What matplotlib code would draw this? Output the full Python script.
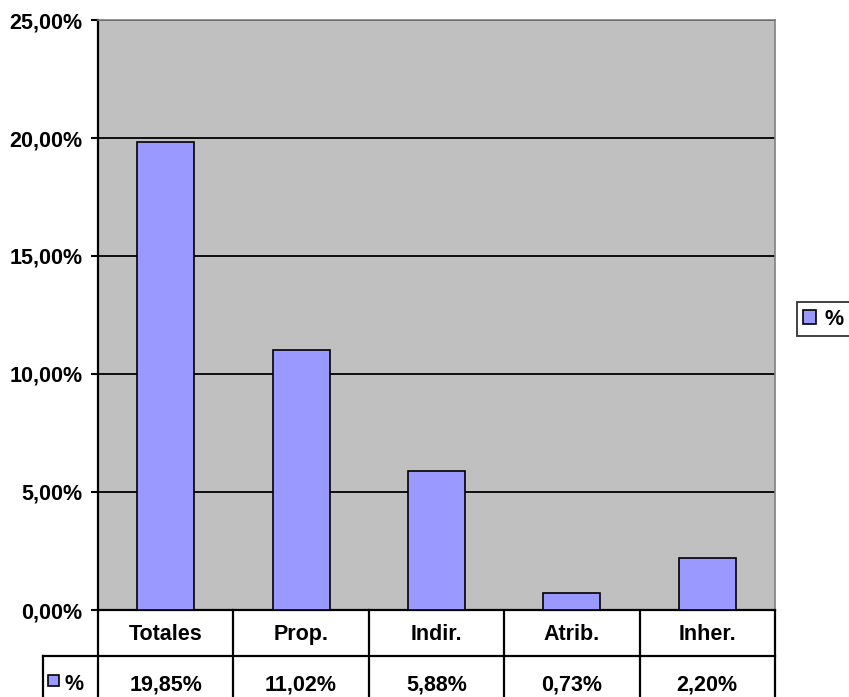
import matplotlib.pyplot as plt
from matplotlib.patches import Rectangle
from matplotlib.ticker import FuncFormatter

categories = ['Totales', 'Prop.', 'Indir.', 'Atrib.', 'Inher.']
values = [19.85, 11.02, 5.88, 0.73, 2.20]
series_name = '%'
cell_labels = ['19,85%', '11,02%', '5,88%', '0,73%', '2,20%']

plt.rcParams['font.family'] = ['Liberation Sans', 'DejaVu Sans']
plt.rcParams['font.weight'] = 'bold'
FS = 15.5
bar_color = '#9999FF'

fig = plt.figure(figsize=(8.49, 6.97), dpi=100)
ax = fig.add_axes([98 / 849, 1 - 610 / 697, 677 / 849, 590 / 697])
ax.set_facecolor('#C0C0C0')

x = list(range(len(categories)))
bars = ax.bar(x, values, width=0.42, color=bar_color, edgecolor='black',
              linewidth=1.2, zorder=3, label=series_name)
ax.set_xlim(-0.5, len(categories) - 0.5)
ax.set_ylim(0, 25)
ax.set_yticks([0, 5, 10, 15, 20, 25])
ax.yaxis.set_major_formatter(FuncFormatter(lambda v, p: f'{v:.2f}%'.replace('.', ',')))
ax.tick_params(axis='y', direction='out', length=5, width=1.5, labelsize=FS, pad=6)
ax.set_xticks([])
ax.grid(axis='y', color='black', linewidth=1.3, zorder=1)
ax.set_axisbelow(True)
for lab in ax.get_yticklabels():
    lab.set_fontweight('bold')

ax.spines['left'].set_linewidth(1.6)
ax.spines['bottom'].set_linewidth(1.6)
for s in ('top', 'right'):
    ax.spines[s].set_color('#808080')
    ax.spines[s].set_linewidth(1.2)

# data table below the axes
row_h = 46 / 590
key_w = 55 / 677
n = len(categories)
y_head = -30 / 590   # baseline of header row
y_vals = -80 / 590   # baseline of value row
lk = dict(color='black', linewidth=1.6, clip_on=False, transform=ax.transAxes)
for i in range(n + 1):
    xf = i / n
    ax.plot([xf, xf], [0, -3 * row_h], **lk)
ax.plot([-key_w, -key_w], [-row_h, -3 * row_h], **lk)
ax.plot([-key_w, 1], [-row_h, -row_h], **lk)
for i, (c, v) in enumerate(zip(categories, cell_labels)):
    xc = (i + 0.5) / n
    ax.text(xc, y_head, c, transform=ax.transAxes, ha='center', va='baseline',
            fontsize=FS, fontweight='bold')
    ax.text(xc, y_vals, v, transform=ax.transAxes, ha='center', va='baseline',
            fontsize=FS, fontweight='bold')
# legend key in table
ax.add_patch(Rectangle((-key_w + 0.0074, y_vals + 0.0068), 0.0162, 0.0186,
                       transform=ax.transAxes, facecolor=bar_color, edgecolor='black',
                       linewidth=1.2, clip_on=False))
ax.text(-key_w + 0.0315, y_vals, series_name, transform=ax.transAxes,
        ha='left', va='baseline', fontsize=FS, fontweight='bold')

leg = fig.legend(handles=[bars], labels=[series_name], loc='center left',
                 bbox_to_anchor=(797 / 849, 1 - 319 / 697),
                 prop={'size': FS, 'weight': 'bold'}, frameon=True, fancybox=False,
                 edgecolor='black', handlelength=0.6, handleheight=0.6,
                 handletextpad=0.4, borderpad=0.3, borderaxespad=0)
leg.get_frame().set_linewidth(1.3)

fig.savefig('out.png', dpi=100)
